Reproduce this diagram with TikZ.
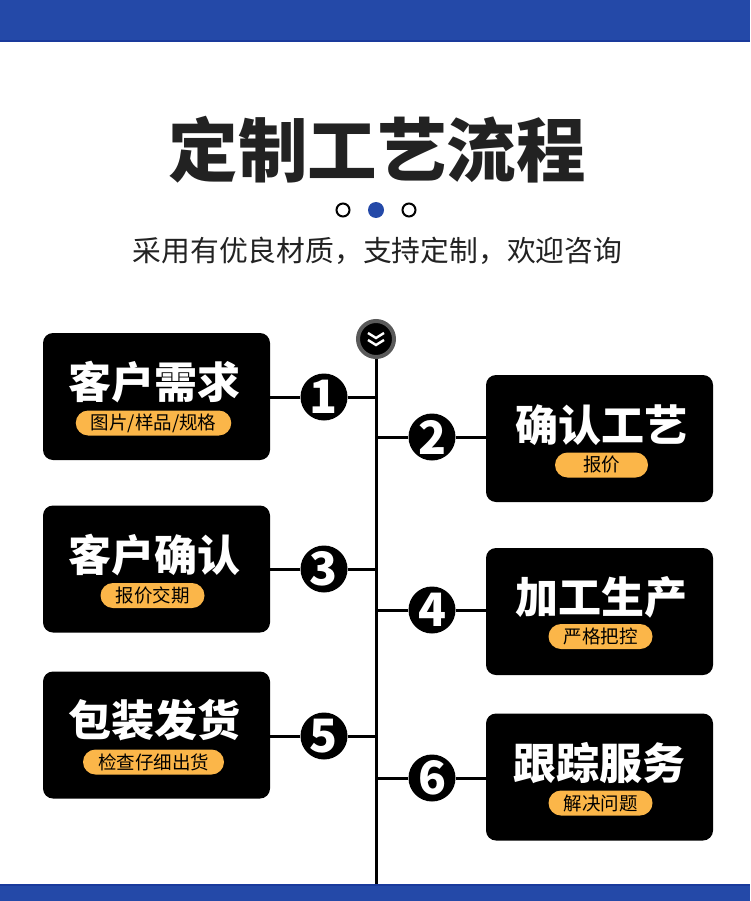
\documentclass[tikz,border=0pt]{standalone}
\usepackage{fontspec}
\newfontfamily\cjk{Noto Sans CJK SC}
\usetikzlibrary{calc}
\definecolor{topblue}{HTML}{2449A8}
\definecolor{edgeblue}{HTML}{1A3A9C}
\definecolor{pillorange}{HTML}{FBB649}
\definecolor{ink}{HTML}{222222}
\definecolor{ringgray}{HTML}{5A5A5A}
\tikzset{
  box/.style={fill=black, rounded corners=10pt, minimum width=227pt, minimum height=127pt, inner sep=0pt},
  ttl/.style={text=white, font=\cjk\bfseries\fontsize{43}{43}\selectfont, inner sep=0pt},
  pill/.style={fill=pillorange, rounded corners=12.5pt, minimum height=25pt, inner xsep=15pt, inner ysep=0pt, text=black, font=\cjk\fontsize{18.5}{18.5}\selectfont},
  num/.style={circle, fill=black, minimum size=47pt, inner sep=0pt, text=white, font=\cjk\bfseries\fontsize{46}{46}\selectfont},
  conn/.style={line width=3pt, black},
  dotopen/.style={circle, draw=black, line width=2pt, fill=white, minimum size=13pt, inner sep=0pt},
}
\begin{document}
\begin{tikzpicture}[x=1pt,y=-1pt]
\useasboundingbox (0,0) rectangle (750,901);
% bars
\fill[topblue] (0,0) rectangle (750,42);
\fill[edgeblue] (0,40.5) rectangle (750,42);
\fill[topblue] (0,884) rectangle (750,901);
\fill[edgeblue] (0,884) rectangle (750,885.5);
% title
\node[text=ink, font=\cjk\bfseries\fontsize{69.5}{69.5}\selectfont, inner sep=0pt] (title) at (377,150) {定制工艺流程};
\node[dotopen] (d1) at (343,210) {};
\node[circle, fill=topblue, minimum size=16pt, inner sep=0pt] (d2) at (376,210) {};
\node[dotopen] (d3) at (409,210) {};
\node[text=ink, font=\cjk\fontsize{28.8}{28.8}\selectfont, inner sep=0pt] (sub) at (377.5,251) {采用有优良材质，支持定制，欢迎咨询};
% spine
\node[circle, fill=black, draw=ringgray, line width=4pt, minimum size=36pt, inner sep=0pt] (top) at (376,339) {};
\coordinate (bot) at (376,884);
\draw[conn] (top.south) -- (bot);
\draw[white, line width=2.4pt, line join=miter] ($(top)+(-8,-6)$) -- ($(top)+(0,-1)$) -- ($(top)+(8,-6)$);
\draw[white, line width=2.4pt, line join=miter] ($(top)+(-8,1)$) -- ($(top)+(0,6)$) -- ($(top)+(8,1)$);
% boxes left
\node[box] (b1) at (156.5,396.5) {};
\node[box] (b3) at (156.5,569) {};
\node[box] (b5) at (156.5,735) {};
% boxes right
\node[box] (b2) at (599.5,438.5) {};
\node[box] (b4) at (599.5,611.5) {};
\node[box] (b6) at (599.5,777) {};
% titles and pills
\node[ttl] (t1) at ($(b1)+(-2,-14)$) {客户需求};
\node[pill] (p1) at ($(b1)+(-3,26.5)$) {图片/样品/规格};
\node[ttl] (t2) at ($(b2)+(2,-13.5)$) {确认工艺};
\node[pill, inner xsep=28pt] (p2) at ($(b2)+(2,26.5)$) {报价};
\node[ttl] (t3) at ($(b3)+(-2,-14)$) {客户确认};
\node[pill] (p3) at ($(b3)+(-4,26.5)$) {报价交期};
\node[ttl] (t4) at ($(b4)+(2,-14)$) {加工生产};
\node[pill] (p4) at ($(b4)+(1,25)$) {严格把控};
\node[ttl] (t5) at ($(b5)+(-2,-15)$) {包装发货};
\node[pill] (p5) at ($(b5)+(-3,27)$) {检查仔细出货};
\node[ttl] (t6) at ($(b6)+(0,-13.5)$) {跟踪服务};
\node[pill] (p6) at ($(b6)+(1,26)$) {解决问题};
% number circles
\node[num] (n1) at (324,397) {1};
\node[num] (n2) at (432,437) {2};
\node[num] (n3) at (324,569) {3};
\node[num] (n4) at (432,610) {4};
\node[num] (n5) at (324,736) {5};
\node[num] (n6) at (432,778) {6};
\coordinate (j1) at (376,397);
\coordinate (j2) at (376,437);
\coordinate (j3) at (376,569);
\coordinate (j4) at (376,610);
\coordinate (j5) at (376,736);
\coordinate (j6) at (376,778);
% connectors
\draw[conn] (b1.east |- n1) -- (n1.west);
\draw[conn] (n1.east) -- (j1);
\draw[conn] (j2) -- (n2.west);
\draw[conn] (n2.east) -- (b2.west |- n2);
\draw[conn] (b3.east |- n3) -- (n3.west);
\draw[conn] (n3.east) -- (j3);
\draw[conn] (j4) -- (n4.west);
\draw[conn] (n4.east) -- (b4.west |- n4);
\draw[conn] (b5.east |- n5) -- (n5.west);
\draw[conn] (n5.east) -- (j5);
\draw[conn] (j6) -- (n6.west);
\draw[conn] (n6.east) -- (b6.west |- n6);
\end{tikzpicture}
\end{document}
